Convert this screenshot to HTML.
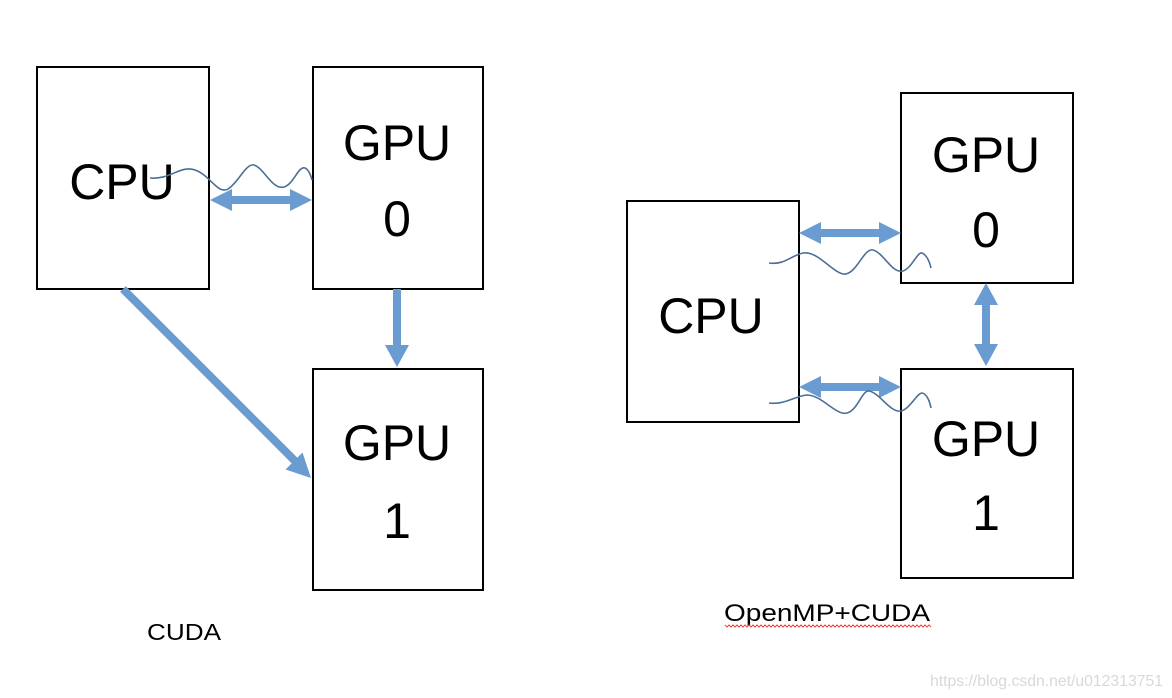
<!DOCTYPE html>
<html><head><meta charset="utf-8"><style>
html,body{margin:0;padding:0;background:#fff;}
svg{display:block;}
text{font-family:"Liberation Sans",sans-serif;fill:#000;}
</style></head><body>
<svg width="1172" height="698" viewBox="0 0 1172 698" xmlns="http://www.w3.org/2000/svg">
<g fill="#fff" stroke="#000" stroke-width="2">
<rect x="37" y="67" width="172" height="222"/>
<rect x="313" y="67" width="170" height="222"/>
<rect x="313" y="369" width="170" height="221"/>
<rect x="627" y="201" width="172" height="221"/>
<rect x="901" y="93" width="172" height="190"/>
<rect x="901" y="369" width="172" height="209"/>
</g>
<g font-size="50" text-anchor="middle">
<text x="122" y="199">CPU</text>
<text x="397" y="160">GPU</text>
<text x="397" y="236">0</text>
<text x="397" y="460">GPU</text>
<text x="397" y="538">1</text>
<text x="711" y="333">CPU</text>
<text x="986" y="172">GPU</text>
<text x="986" y="247">0</text>
<text x="986" y="456">GPU</text>
<text x="986" y="530">1</text>
</g>
<g fill="#6a9bd1">
<rect x="228" y="196" width="66" height="8"/>
<polygon points="210,200 232,189 232,211"/>
<polygon points="312,200 290,189 290,211"/>
<rect x="393" y="289" width="8" height="58"/>
<polygon points="385,345 409,345 397,367"/>
<line x1="123" y1="289" x2="298" y2="464" stroke="#6a9bd1" stroke-width="8"/>
<polygon points="311,478 285.5,469.5 302.5,452.5"/>
<rect x="817" y="229" width="66" height="8"/>
<polygon points="799,233 821,222 821,244"/>
<polygon points="901,233 879,222 879,244"/>
<rect x="817" y="383" width="66" height="8"/>
<polygon points="799,387 821,376 821,398"/>
<polygon points="901,387 879,376 879,398"/>
<rect x="982" y="301" width="8" height="47"/>
<polygon points="986,283 974,305 998,305"/>
<polygon points="986,366 974,344 998,344"/>
</g>
<g fill="none" stroke="#4a6f96" stroke-width="1.6">
<path d="M150,178 C170,180 180,165 195,170 C210,175 218,195 228,189 C238,183 246,163 254,165 C264,168 272,190 284,187 C294,184 298,166 305,168 C309,170 311,176 312,180"/>
<path d="M769,263 C785,265 790,256 803,253 C818,250 835,276 846,274 C858,271 864,248 873,250 C884,253 892,274 903,271 C912,268 917,252 922,253 C927,255 930,263 931,268"/>
<path d="M769,403 C785,405 795,396 807,395 C822,395 836,416 847,413 C858,410 862,390 869,391 C880,393 890,413 901,411 C910,409 917,393 922,393 C927,394 930,402 931,408"/>
</g>
<text x="147" y="640" font-size="23" textLength="74" lengthAdjust="spacingAndGlyphs">CUDA</text>
<text x="724" y="621" font-size="24" textLength="206" lengthAdjust="spacingAndGlyphs">OpenMP+CUDA</text>
<polyline fill="none" stroke="#e8453c" stroke-width="1" points="725,625 727,627 729,625 731,627 733,625 735,627 737,625 739,627 741,625 743,627 745,625 747,627 749,625 751,627 753,625 755,627 757,625 759,627 761,625 763,627 765,625 767,627 769,625 771,627 773,625 775,627 777,625 779,627 781,625 783,627 785,625 787,627 789,625 791,627 793,625 795,627 797,625 799,627 801,625 803,627 805,625 807,627 809,625 811,627 813,625 815,627 817,625 819,627 821,625 823,627 825,625 827,627 829,625 831,627 833,625 835,627 837,625 839,627 841,625 843,627 845,625 847,627 849,625 851,627 853,625 855,627 857,625 859,627 861,625 863,627 865,625 867,627 869,625 871,627 873,625 875,627 877,625 879,627 881,625 883,627 885,625 887,627 889,625 891,627 893,625 895,627 897,625 899,627 901,625 903,627 905,625 907,627 909,625 911,627 913,625 915,627 917,625 919,627 921,625 923,627 925,625 927,627 929,625 931,627"/>
<text x="930" y="686" font-size="16" style="fill:#d8d8d8" textLength="233" lengthAdjust="spacingAndGlyphs">https://blog.csdn.net/u012313751</text>
</svg>
</body></html>
